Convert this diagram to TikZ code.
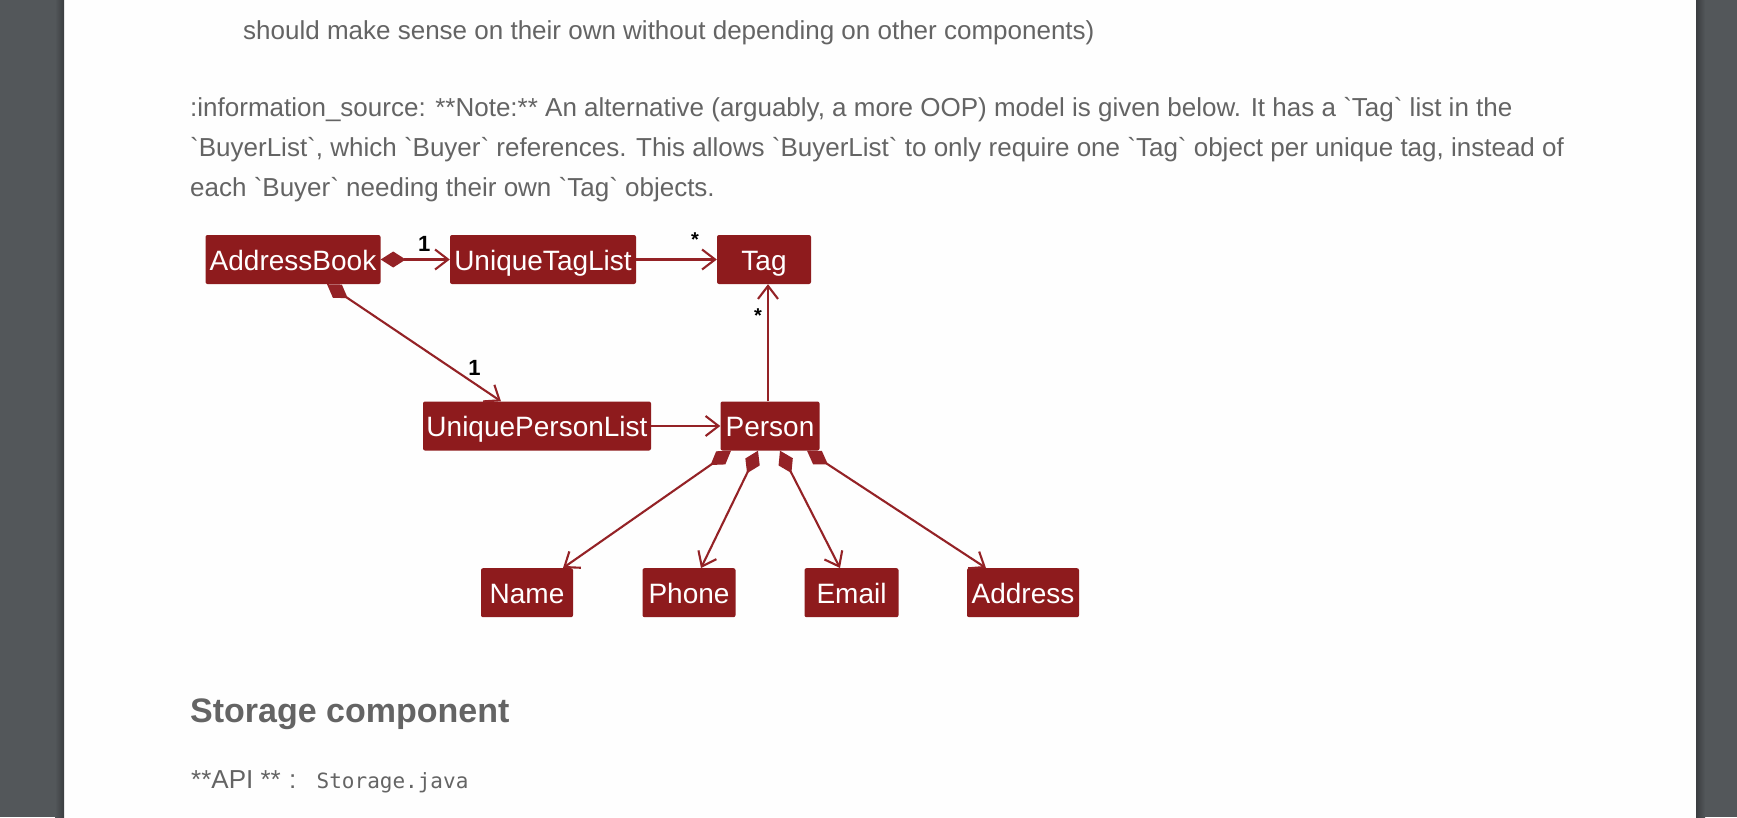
\documentclass[tikz,border=0pt]{standalone}
\usepackage{fontspec}
\setmainfont{Liberation Sans}[Ligatures=TeXOff]
\newfontfamily\monofont{DejaVu Sans Mono}
\usetikzlibrary{arrows.meta}
\definecolor{umlred}{RGB}{142,27,29}
\definecolor{umlline}{RGB}{148,34,38}
\definecolor{bodygrey}{RGB}{100,100,100}
\definecolor{bargrey}{RGB}{83,87,90}
\definecolor{bardark}{RGB}{58,61,64}
\newcommand{\bt}{\symbol{96}}
\tikzstyle{cls} = [fill=umlred, text=white, rounded corners=2pt, minimum height=49pt, inner sep=0pt, text height=27pt, text depth=6pt, font=\fontsize{28}{28}\selectfont]
\tikzstyle{assoc} = [umlline, line width=2.1pt, -{Straight Barb[length=13pt,width=20pt]}]
\tikzstyle{compo} = [assoc, {Diamond[length=25pt,width=16pt]}-{Straight Barb[length=13pt,width=20pt]}]
\tikzstyle{mult} = [text=black, inner sep=1pt, font=\fontsize{22}{22}\selectfont\bfseries]
\tikzstyle{bodytext} = [anchor=base west, text=bodygrey, inner sep=0pt, font=\fontsize{26}{26}\selectfont]
\begin{document}
\begin{tikzpicture}[x=1pt,y=-1pt]
	\useasboundingbox (0,0) rectangle (1737,817);
	\fill[white!99.5!black] (0,0) rectangle (1737,817);
	\fill[bargrey] (0,0) rectangle (64,817);
	\shade[left color=bargrey, right color=bardark] (55,0) rectangle (64,817);
	\fill[bargrey] (1696,0) rectangle (1737,817);
	\shade[left color=bardark, right color=bargrey] (1696,0) rectangle (1705,817);
	\node[bodytext] (l0) at (243,39) {should make sense on their own without depending on other components)};
	\node[bodytext] (l1) at (190,116) {:information\_source: **Note:** An alternative (arguably, a more OOP) model is given below. It has a \bt Tag\bt{} list in the};
	\node[bodytext] (l2) at (190,156) {\bt BuyerList\bt, which \bt Buyer\bt{} references. This allows \bt BuyerList\bt{} to only require one \bt Tag\bt{} object per unique tag, instead of};
	\node[bodytext] (l3) at (190,196) {each \bt Buyer\bt{} needing their own \bt Tag\bt{} objects.};
	\node[bodytext, font=\fontsize{34}{34}\selectfont\bfseries] (head) at (190,722) {Storage component};
	\node[bodytext] (api) at (191,788) {**API **};
	\node[bodytext] (colon) at (289,788) {:};
	\node[bodytext, font=\monofont\fontsize{21}{21}\selectfont] (file) at (316.5,788) {Storage.java};
	\node[cls, minimum width=175pt] (ab) at (293,259.5) {AddressBook};
	\node[cls, minimum width=186pt] (utl) at (543,259.5) {UniqueTagList};
	\node[cls, minimum width=94pt] (tag) at (764,259.5) {Tag};
	\node[cls, minimum width=228pt] (upl) at (537,426) {UniquePersonList};
	\node[cls, minimum width=99pt] (person) at (770,426) {Person};
	\node[cls, minimum width=92pt] (name) at (527,592.7) {Name};
	\node[cls, minimum width=93pt] (phone) at (689,592.7) {Phone};
	\node[cls, minimum width=94pt] (email) at (851.5,592.7) {Email};
	\node[cls, minimum width=112pt] (address) at (1023,592.7) {Address};
	\draw[compo] (ab.east) -- node[mult, pos=0.63, above=6pt]{1}(utl.west);
	\draw[assoc] (utl.east) -- node[mult, pos=0.73, above=11pt, font=\fontsize{20}{20}\selectfont\bfseries]{*}(tag.west);
	\draw[assoc] ([xshift=-2pt]person.north) -- node[mult, pos=0.73, left=4pt, font=\fontsize{20}{20}\selectfont\bfseries]{*}([xshift=4pt]tag.south);
	\draw[assoc] (upl.east) -- (person.west);
	\draw[compo] ([xshift=34pt]ab.south) -- node[mult, pos=0.8, anchor=south west]{1}([xshift=-36pt]upl.north);
	\draw[compo] ([xshift=-39pt]person.south) -- ([xshift=36pt]name.north);
	\draw[compo] ([xshift=-12pt]person.south) -- ([xshift=12pt]phone.north);
	\draw[compo] ([xshift=10pt]person.south) -- ([xshift=-11.5pt]email.north);
	\draw[compo] ([xshift=37pt]person.south) -- ([xshift=-37pt]address.north);
\end{tikzpicture}
\end{document}
